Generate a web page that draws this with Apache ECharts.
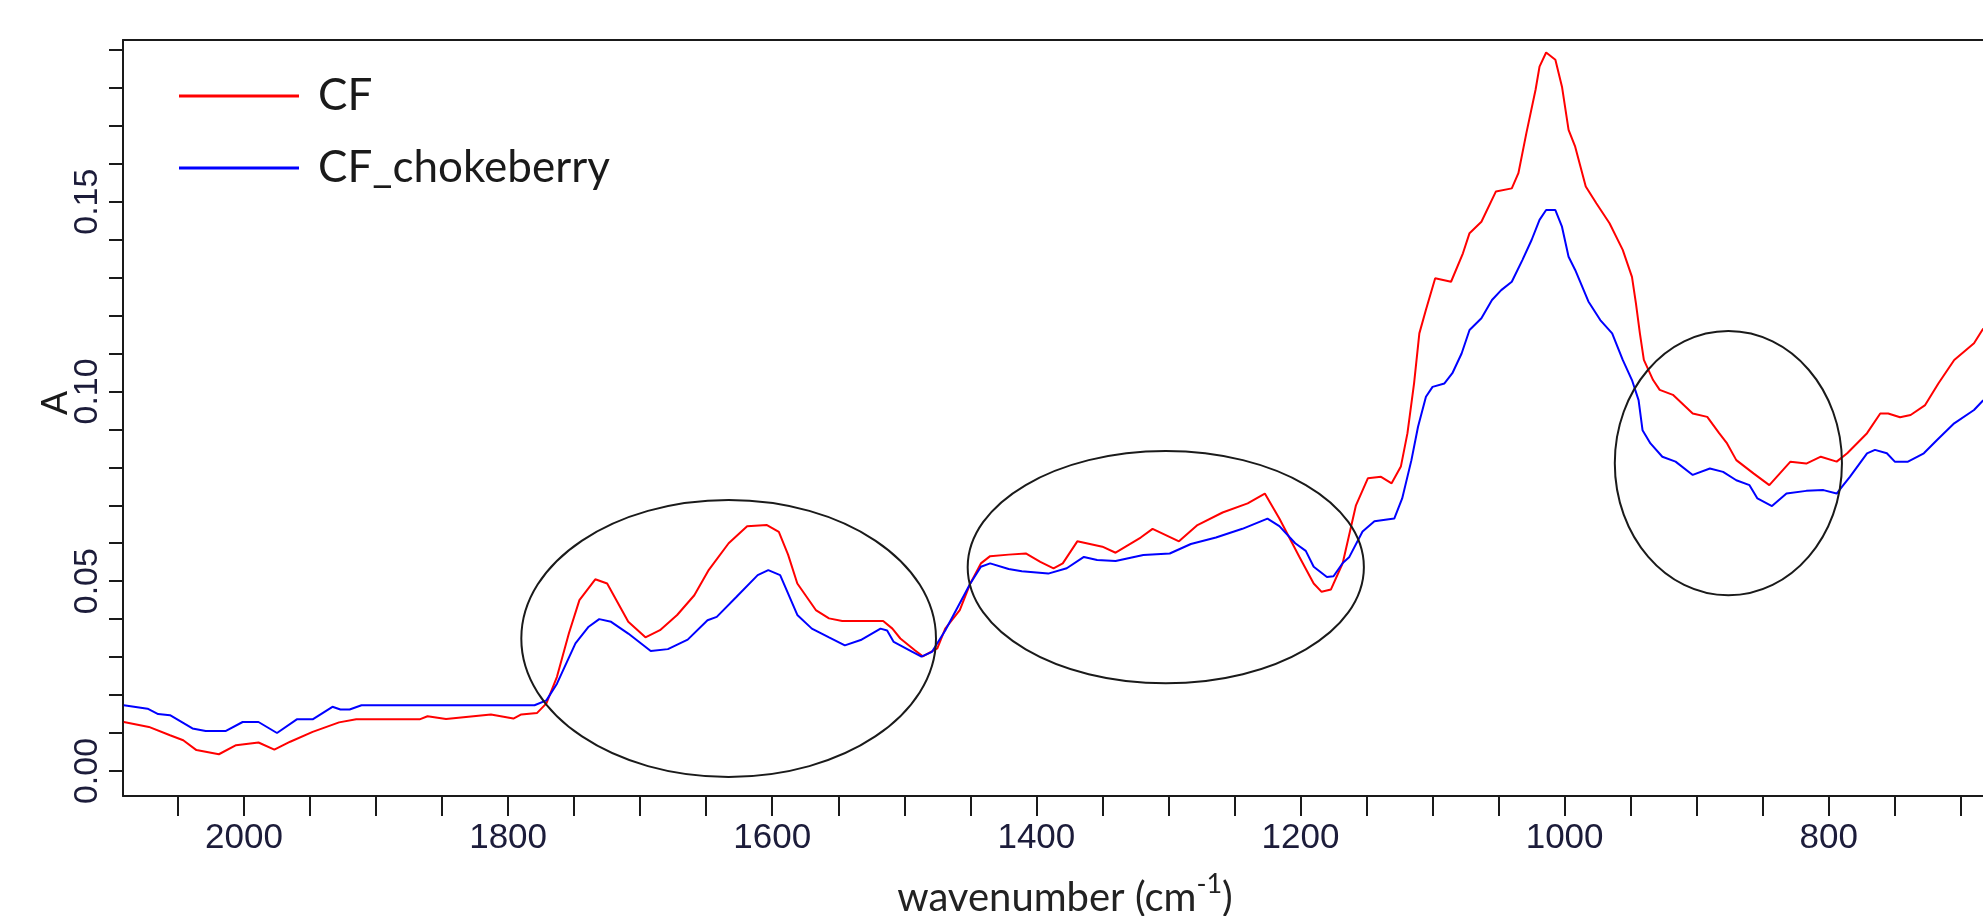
<!DOCTYPE html>
<html>
<head>
<meta charset="utf-8">
<script src="https://cdn.jsdelivr.net/npm/echarts@6/dist/echarts.min.js"></script>
<style>
html,body{margin:0;padding:0;background:#fff;}
#chart{width:1983px;height:916px;}
</style>
</head>
<body>
<div id="chart"></div>
<script>
// ---- data ----
const seriesNames = ['CF', 'CF_chokeberry'];

const cfWave = [2091,2072,2056,2046,2036,2019,2006,1989,1977,1965,1948,1928,1915,1867,1861,1847,1813,1796,1790,1778,1771,1763,1754,1746,1734,1725,1709,1696,1685,1672,1659,1648,1633,1619,1604,1595,1588,1581,1567,1557,1547,1516,1509,1503,1492,1486,1475,1469,1458,1450,1442,1435,1421,1408,1397,1387,1380,1369,1350,1340,1321,1312,1292,1278,1259,1240,1227,1216,1201,1190,1184,1177,1168,1158,1149,1139,1131,1124,1119,1114,1110,1105,1098,1086,1077,1072,1063,1052,1040,1035,1029,1022,1019,1014,1007,1002,997,992,984,976,966,956,949,946,943,940,933,928,918,903,892,883,877,870,857,845,837,829,817,806,794,786,771,761,755,746,738,727,717,705,690,683];
const cfAbs = [0.0129,0.0116,0.0094,0.0081,0.0055,0.0044,0.0068,0.0075,0.0056,0.0077,0.0103,0.0128,0.0136,0.0136,0.0144,0.0137,0.0149,0.0138,0.0149,0.0153,0.0178,0.0248,0.0362,0.0450,0.0505,0.0494,0.0393,0.0352,0.0371,0.0411,0.0463,0.0530,0.0600,0.0645,0.0648,0.0630,0.0570,0.0494,0.0424,0.0402,0.0395,0.0395,0.0375,0.0349,0.0318,0.0302,0.0323,0.0375,0.0424,0.0494,0.0547,0.0566,0.0570,0.0573,0.0551,0.0534,0.0547,0.0605,0.0591,0.0575,0.0615,0.0638,0.0605,0.0648,0.0681,0.0705,0.0731,0.0665,0.0565,0.0494,0.0472,0.0478,0.0548,0.0700,0.0771,0.0775,0.0758,0.0802,0.0890,0.1021,0.1153,0.1215,0.1298,0.1289,0.1364,0.1417,0.1447,0.1527,0.1535,0.1575,0.1680,0.1795,0.1856,0.1893,0.1874,0.1803,0.1689,0.1645,0.1540,0.1496,0.1443,0.1373,0.1302,0.1232,0.1153,0.1083,0.1030,0.1004,0.0991,0.0942,0.0933,0.0890,0.0863,0.0819,0.0784,0.0753,0.0784,0.0815,0.0810,0.0828,0.0815,0.0837,0.0890,0.0942,0.0942,0.0932,0.0938,0.0964,0.1021,0.1083,0.1127,0.1166];

const chokeWave = [2091,2073,2065,2056,2039,2029,2014,2001,1989,1975,1960,1948,1933,1927,1920,1911,1780,1771,1763,1749,1739,1731,1722,1709,1692,1679,1664,1649,1642,1627,1611,1603,1594,1581,1570,1557,1545,1533,1518,1513,1508,1496,1487,1479,1469,1450,1442,1435,1421,1411,1391,1377,1364,1354,1340,1319,1299,1283,1264,1244,1225,1216,1204,1196,1190,1180,1175,1168,1163,1153,1144,1129,1123,1116,1111,1105,1100,1091,1085,1078,1072,1063,1055,1048,1040,1032,1025,1019,1014,1007,1002,997,992,982,973,964,956,949,944,941,935,926,916,903,890,880,870,860,854,843,832,817,804,794,789,784,771,765,756,750,740,728,718,705,690,683];
const chokeAbs = [0.0173,0.0164,0.0150,0.0147,0.0112,0.0105,0.0105,0.0129,0.0129,0.0100,0.0136,0.0136,0.0169,0.0162,0.0162,0.0173,0.0173,0.0186,0.0230,0.0336,0.0380,0.0400,0.0393,0.0362,0.0316,0.0321,0.0346,0.0397,0.0406,0.0459,0.0516,0.0529,0.0516,0.0411,0.0375,0.0352,0.0331,0.0345,0.0375,0.0370,0.0340,0.0318,0.0301,0.0314,0.0370,0.0494,0.0538,0.0547,0.0532,0.0526,0.0520,0.0534,0.0564,0.0556,0.0553,0.0569,0.0573,0.0598,0.0615,0.0638,0.0665,0.0645,0.0600,0.0580,0.0538,0.0511,0.0513,0.0548,0.0564,0.0631,0.0658,0.0665,0.0718,0.0819,0.0907,0.0986,0.1012,0.1021,0.1048,0.1100,0.1162,0.1193,0.1241,0.1267,0.1289,0.1346,0.1399,0.1452,0.1478,0.1478,0.1434,0.1355,0.1320,0.1237,0.1188,0.1153,0.1083,0.1030,0.0977,0.0898,0.0863,0.0828,0.0815,0.0780,0.0797,0.0788,0.0766,0.0753,0.0718,0.0698,0.0731,0.0738,0.0740,0.0731,0.0753,0.0775,0.0837,0.0846,0.0837,0.0815,0.0815,0.0837,0.0872,0.0916,0.0951,0.0977];

// annotation ellipses: [centre wavenumber, centre A, half-width (cm-1), half-height (A)]
const ellipseCentreWave = [1633, 1302, 876];
const ellipseCentreAbs = [0.0349, 0.0537, 0.0811];
const ellipseHalfWave = [157, 150, 86];
const ellipseHalfAbs = [0.0365, 0.0306, 0.0348];

// axis ticks
const xTickValues = [];
for (let v = 700; v <= 2050; v += 50) xTickValues.push(v);
const xLabelValues = [800, 1000, 1200, 1400, 1600, 1800, 2000];
const yTickValues = [];
for (let i = 0; i <= 19; i++) yTickValues.push(+(i * 0.01).toFixed(2));
const yLabelValues = [0, 0.05, 0.10, 0.15];

// ---- chart ----
const pairs = (xs, ys) => xs.map((x, i) => [x, ys[i]]);
const ellipseData = ellipseCentreWave.map((w, i) => [w, ellipseCentreAbs[i], ellipseHalfWave[i], ellipseHalfAbs[i]]);

const axisColor = '#1a1a1a';
const labelColor = '#1c1c3a';

const chart = echarts.init(document.getElementById('chart'), null, {renderer: 'canvas'});
chart.setOption({
  animation: false,
  backgroundColor: '#ffffff',
  grid: {left: 123, top: 40, right: 0, bottom: 120, containLabel: false, outerBoundsMode: 'none'},
  legend: {
    orient: 'vertical',
    left: 174,
    top: 69,
    data: seriesNames,
    icon: 'rect',
    itemWidth: 120,
    itemHeight: 3,
    itemGap: 28,
    textStyle: {fontFamily: 'Lato', fontSize: 44, color: '#1a1a1a', lineHeight: 44, padding: [0, 0, 0, 14]}
  },
  xAxis: [{
    type: 'value',
    inverse: true,
    min: 683.2,
    max: 2091.6,
    position: 'bottom',
    name: '{main|wavenumber (cm}{sup|-1}{main|)}',
    nameLocation: 'middle',
    nameGap: 75,
    nameMoveOverlap: false,
    nameTextStyle: {
      fontFamily: 'Lato', fontSize: 40, color: '#222', padding: [0, 0, 0, 24],
      rich: {
        main: {fontFamily: 'Lato', fontSize: 40, color: '#222', verticalAlign: 'bottom'},
        sup: {fontFamily: 'Lato', fontSize: 27, color: '#222', verticalAlign: 'bottom', padding: [0, 0, 20, 0]}
      }
    },
    axisLine: {show: true, onZero: false, lineStyle: {color: axisColor, width: 2}},
    axisTick: {show: true, inside: false, length: 20, customValues: xTickValues, lineStyle: {color: axisColor, width: 2}},
    axisLabel: {show: true, customValues: xLabelValues, margin: 25, fontFamily: 'Liberation Sans', fontSize: 35, color: labelColor,
      formatter: v => String(Math.round(v))},
    splitLine: {show: false}
  }, {
    type: 'value',
    inverse: true,
    min: 683.2,
    max: 2091.6,
    position: 'top',
    axisLine: {show: true, onZero: false, lineStyle: {color: axisColor, width: 2}},
    axisTick: {show: false},
    axisLabel: {show: false},
    splitLine: {show: false}
  }],
  yAxis: {
    type: 'value',
    min: -0.0066,
    max: 0.1926,
    name: 'A',
    nameLocation: 'middle',
    nameRotate: 90,
    nameGap: 48,
    nameMoveOverlap: false,
    nameTextStyle: {fontFamily: 'Liberation Sans', fontSize: 36, color: '#1a1a1a', padding: [0, 0, 0, 30]},
    axisLine: {show: true, onZero: false, lineStyle: {color: axisColor, width: 2}},
    axisTick: {show: true, inside: false, length: 14, customValues: yTickValues, lineStyle: {color: axisColor, width: 2}},
    axisLabel: {show: true, customValues: yLabelValues, rotate: 90, margin: 18, fontFamily: 'Liberation Sans', fontSize: 34, color: labelColor,
      formatter: v => v.toFixed(2)},
    splitLine: {show: false}
  },
  series: [{
    name: seriesNames[0],
    type: 'line',
    xAxisIndex: 0,
    data: pairs(cfWave, cfAbs),
    showSymbol: false,
    symbol: 'none',
    color: '#ff0000',
    lineStyle: {color: '#ff0000', width: 2},
    z: 3
  }, {
    name: seriesNames[1],
    type: 'line',
    xAxisIndex: 0,
    data: pairs(chokeWave, chokeAbs),
    showSymbol: false,
    symbol: 'none',
    color: '#0000ff',
    lineStyle: {color: '#0000ff', width: 2},
    z: 3
  }, {
    name: 'ellipses',
    type: 'custom',
    xAxisIndex: 0,
    data: ellipseData,
    clip: false,
    silent: true,
    z: 4,
    renderItem: function (params, api) {
      const c = api.coord([api.value(0), api.value(1)]);
      const s = api.size([api.value(2), api.value(3)], [api.value(0), api.value(1)]);
      return {
        type: 'ellipse',
        shape: {cx: c[0], cy: c[1], rx: Math.abs(s[0]), ry: Math.abs(s[1])},
        style: {fill: null, stroke: '#1a1a1a', lineWidth: 2}
      };
    }
  }]
});
</script>
</body>
</html>
